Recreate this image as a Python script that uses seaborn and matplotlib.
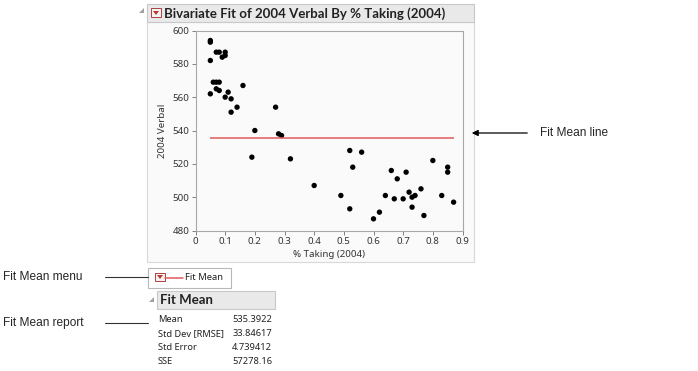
import matplotlib
matplotlib.use("Agg")
import matplotlib.pyplot as plt
from matplotlib.patches import Rectangle, Polygon
import numpy as np
import pandas as pd
import seaborn as sns

# dados
pct_taking = [0.05, 0.05, 0.05, 0.05, 0.07, 0.08, 0.09, 0.10, 0.10,
              0.06, 0.07, 0.08, 0.07, 0.08, 0.10, 0.11, 0.12, 0.14, 0.12,
              0.16, 0.19, 0.20, 0.27, 0.28, 0.29, 0.32, 0.40, 0.49, 0.52,
              0.52, 0.53, 0.56, 0.60, 0.62, 0.64, 0.66, 0.67, 0.68, 0.70,
              0.71, 0.72, 0.73, 0.74, 0.73, 0.76, 0.77, 0.80, 0.83, 0.85,
              0.85, 0.87]
verbal_2004 = [594, 593, 582, 562, 587, 587, 584, 587, 585,
               569, 569, 569, 565, 564, 560, 563, 559, 554, 551,
               567, 524, 540, 554, 538, 537, 523, 507, 501, 528,
               493, 518, 527, 487, 491, 501, 516, 499, 511, 499,
               515, 503, 500, 501, 494, 505, 489, 522, 501, 518,
               515, 497]
x_ticks = [0, 0.1, 0.2, 0.3, 0.4, 0.5, 0.6, 0.7, 0.8, 0.9]
x_tick_labels = ["0", "0.1", "0.2", "0.3", "0.4", "0.5", "0.6", "0.7", "0.8", "0.9"]
y_ticks = [480, 500, 520, 540, 560, 580, 600]

report_labels = ["Mean", "Std Dev [RMSE]", "Std Error", "SSE"]
report_values = ["535.3922", "33.84617", "4.739412", "57278.16"]

df = pd.DataFrame({"% Taking (2004)": pct_taking, "2004 Verbal": verbal_2004})

sns.set_style("white")
plt.rcParams["font.family"] = ["Noto Sans", "DejaVu Sans"]
bold_font = ["Lato", "DejaVu Sans"]

W, H = 698, 371
fig = plt.figure(figsize=(W / 100, H / 100), dpi=100)

# camada de fundo em coordenadas de pixel
bg = fig.add_axes([0, 0, 1, 1])
bg.set_xlim(0, W)
bg.set_ylim(H, 0)
bg.axis("off")

jmp_gray = "#c8c8c8"
red = "#e05a5a"

# painel principal
bg.add_patch(Rectangle((147, 22), 327, 240, facecolor="#fafafa", edgecolor="#d8d8d8", lw=0.8))
# barra de título
bg.add_patch(Rectangle((147, 4), 327, 18, facecolor="#e9e9e9", edgecolor=jmp_gray, lw=0.8))
bg.add_patch(Polygon([[139, 13], [144, 8], [144, 13]], closed=True, facecolor="#a0a0a0", edgecolor="none"))
bg.add_patch(Rectangle((151, 8), 10, 9, facecolor="#f4f4f4", edgecolor="#b04040", lw=0.7))
bg.add_patch(Polygon([[153, 11], [159, 11], [156, 15]], closed=True, facecolor="#c0392b", edgecolor="none"))
bg.text(164, 13.5, "Bivariate Fit of 2004 Verbal By % Taking (2004)", fontsize=9.5,
        fontweight="bold", family=bold_font, va="center", ha="left", color="#222222")

# caixa da legenda "Fit Mean"
bg.add_patch(Rectangle((148, 268), 83, 20, facecolor="white", edgecolor="#b8b8b8", lw=0.8))
bg.add_patch(Rectangle((155, 273), 10, 8, facecolor="#f4f4f4", edgecolor="#b04040", lw=0.7))
bg.add_patch(Polygon([[157, 275], [163, 275], [160, 279]], closed=True, facecolor="#c0392b", edgecolor="none"))
bg.plot([165, 183], [277.5, 277.5], color=red, lw=1.1)
bg.text(185, 278, "Fit Mean", fontsize=6.8, va="center", ha="left", color="#222222")

# relatório "Fit Mean"
bg.add_patch(Polygon([[149, 302], [154, 297], [154, 302]], closed=True, facecolor="#a0a0a0", edgecolor="none"))
bg.add_patch(Rectangle((157, 291), 118, 18, facecolor="#e9e9e9", edgecolor=jmp_gray, lw=0.8))
bg.text(160, 300.5, "Fit Mean", fontsize=9.5, fontweight="bold", family=bold_font,
        va="center", ha="left", color="#222222")
row_y = [320, 333.5, 347.5, 361]
for lab, val, yy in zip(report_labels, report_values, row_y):
    bg.text(158, yy, lab, fontsize=6.7, va="center", ha="left", color="#222222")
    bg.text(272, yy, val, fontsize=6.7, va="center", ha="right", color="#222222")

# textos explicativos
note_font = ["Liberation Sans", "DejaVu Sans"]
bg.annotate("", xy=(469, 133), xytext=(530, 133),
            arrowprops=dict(arrowstyle="-|>", color="black", lw=0.9, mutation_scale=9))
bg.text(540, 133, "Fit Mean line", fontsize=8.6, family=note_font, va="center", ha="left")
bg.plot([105, 148], [277, 277], color="#333333", lw=0.8)
bg.text(3, 277, "Fit Mean menu", fontsize=8.6, family=note_font, va="center", ha="left")
bg.plot([105, 148], [323, 323], color="#333333", lw=0.8)
bg.text(3, 323, "Fit Mean report", fontsize=8.6, family=note_font, va="center", ha="left")

# gráfico de dispersão
ax = fig.add_axes([195.5 / W, 1 - 230.5 / H, 267 / W, 200 / H])
ax.set_facecolor("#fafafa")
sns.scatterplot(data=df, x="% Taking (2004)", y="2004 Verbal", ax=ax,
                color="black", s=15, edgecolor="none", linewidth=0)

# linha da média
mean_val = np.mean(verbal_2004)
ax.hlines(mean_val, min(pct_taking), max(pct_taking), color=red, lw=1.1)

ax.set_xlim(0, 0.9)
ax.set_ylim(480, 600)
ax.set_xticks(x_ticks)
ax.set_xticklabels(x_tick_labels)
ax.set_yticks(y_ticks)
for sp in ax.spines.values():
    sp.set_color("#a8a8a8")
    sp.set_linewidth(0.8)
ax.tick_params(axis="both", which="both", direction="out", length=3, width=0.7,
               color="#808080", labelsize=7, labelcolor="#333333", pad=1.5,
               bottom=True, left=True)
ax.set_xlabel("% Taking (2004)", fontsize=7, color="#333333", labelpad=3)
ax.set_ylabel("2004 Verbal", fontsize=7, color="#333333", labelpad=4)

fig.savefig("out.png", dpi=100)
